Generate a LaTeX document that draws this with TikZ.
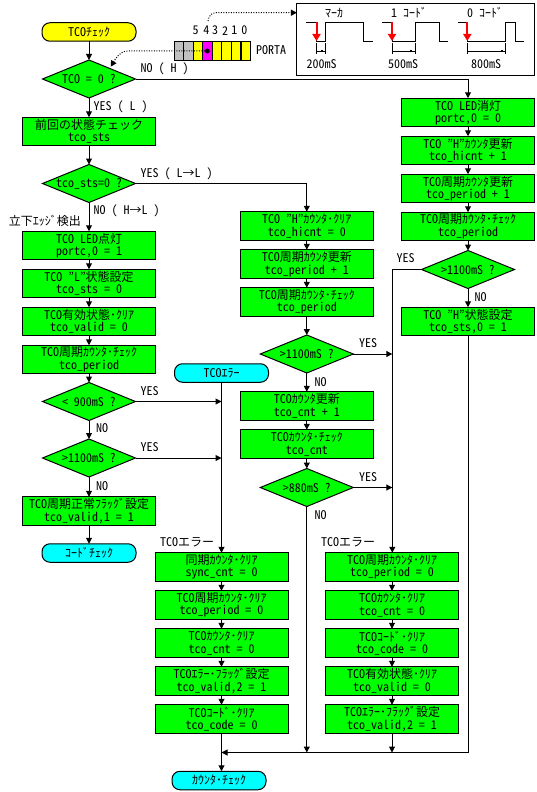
\documentclass[tikz,border=0pt]{standalone}
\usepackage{fontspec}
\usetikzlibrary{arrows.meta,shapes.geometric,calc}
\newfontfamily\cjk[RawFeature=+hwid]{Noto Sans CJK JP}
\newcommand\jp{\cjk\fontsize{12}{12.5}\selectfont\fontdimen2\font=6pt\relax\fontdimen3\font=0pt\relax\fontdimen4\font=0pt\relax}
\newcommand\dt[1]{\makebox[0pt]{#1}}
\definecolor{fgreen}{HTML}{00FF00}
\definecolor{fyellow}{HTML}{FFFF00}
\definecolor{fcyan}{HTML}{00FFFF}
\definecolor{fmag}{HTML}{FF00FF}
\definecolor{fgrey}{HTML}{C0C0C0}
\definecolor{fred}{HTML}{FF0000}
\tikzset{
  every node/.style={font=\jp,inner sep=0pt,outer sep=0pt},
  proc/.style={draw,line width=1pt,fill=fgreen,minimum width=133pt,minimum height=28.5pt,align=center},
  dia/.style={draw,line width=1pt,fill=fgreen,diamond,aspect=2.45,minimum width=93pt,minimum height=38pt},
  term/.style={draw,line width=1pt,rounded corners=8pt,minimum width=94pt,minimum height=18.5pt},
  lab/.style={anchor=west},
  conn/.style={line width=1pt,-{Triangle[length=6pt,width=6pt]}},
  plain/.style={line width=1pt},
  dots/.style={line width=1pt,dash pattern=on 1pt off 1.5pt},
  cell/.style={draw,line width=1pt,minimum width=9.55pt,minimum height=18.6pt},
  wave/.style={line width=1pt},
  redarr/.style={line width=2pt,fred,-{Triangle[length=7pt,width=8pt]}},
}
\begin{document}
\begin{tikzpicture}[x=1pt,y=-1pt]
\useasboundingbox (0,0) rectangle (537,792);
% left column
\node[term,fill=fyellow] (start) at (89,32) {TCOﾁｪｯｸ};
\node[dia] (d1) at (89,79) {\dt{TCO = 0 ?}};
\node[proc] (b1) at (89,131.5) {前回の状態チェック\\tco\_sts};
\node[dia] (d2) at (89,183.5) {\dt{tco\_sts=0 ?}};
\node[proc] (l1) at (89,245.5) {TCO LED点灯\\portc,0 = 1};
\node[proc] (l2) at (89,283.5) {TCO ”L”状態設定\\tco\_sts = 0};
\node[proc] (l3) at (89,321.5) {TCO有効状態･ｸﾘｱ\\tco\_valid = 0};
\node[proc] (l4) at (89,359.5) {TCO周期ｶｳﾝﾀ･ﾁｪｯｸ\\tco\_period};
\node[dia] (d3) at (89,401.5) {\dt{< 900mS ?}};
\node[dia] (d4) at (89,458) {\dt{>1100mS ?}};
\node[proc] (l5) at (89,511) {TCO周期正常ﾌﾗｯｸﾞ設定\\tco\_valid,1 = 1};
\node[term,fill=fcyan] (code) at (89,553) {ｺｰﾄﾞﾁｪｯｸ};
% error column 1
\node[term,fill=fcyan] (err) at (221.5,373) {TCOｴﾗｰ};
\node[proc] (e1) at (221.5,567) {同期ｶｳﾝﾀ･ｸﾘｱ\\sync\_cnt = 0};
\node[proc] (e2) at (221.5,605) {TCO周期ｶｳﾝﾀ･ｸﾘｱ\\tco\_period = 0};
\node[proc] (e3) at (221.5,643) {TCOｶｳﾝﾀ･ｸﾘｱ\\tco\_cnt = 0};
\node[proc] (e4) at (221.5,681) {TCOｴﾗｰ･ﾌﾗｯｸﾞ設定\\tco\_valid,2 = 1};
\node[proc] (e5) at (221.5,719) {TCOｺｰﾄﾞ･ｸﾘｱ\\tco\_code = 0};
\node[term,fill=fcyan] (cnt) at (219,780.5) {ｶｳﾝﾀ･ﾁｪｯｸ};
% middle column
\node[proc] (m1) at (306.8,226) {TCO ”H”ｶｳﾝﾀ･ｸﾘｱ\\tco\_hicnt = 0};
\node[proc] (m2) at (306.8,264) {TCO周期ｶｳﾝﾀ更新\\tco\_period + 1};
\node[proc] (m3) at (306.8,302) {TCO周期ｶｳﾝﾀ･ﾁｪｯｸ\\tco\_period};
\node[dia] (d5) at (306.8,354) {\dt{>1100mS ?}};
\node[proc] (m4) at (306.8,406) {TCOｶｳﾝﾀ更新\\tco\_cnt + 1};
\node[proc] (m5) at (306.8,444) {TCOｶｳﾝﾀ･ﾁｪｯｸ\\tco\_cnt};
\node[dia] (d6) at (306.8,487.5) {\dt{>880mS ?}};
% error column 2
\node[proc] (f1) at (392,567) {TCO周期ｶｳﾝﾀ･ｸﾘｱ\\tco\_period = 0};
\node[proc] (f2) at (392,605) {TCOｶｳﾝﾀ･ｸﾘｱ\\tco\_cnt = 0};
\node[proc] (f3) at (392,643) {TCOｺｰﾄﾞ･ｸﾘｱ\\tco\_code = 0};
\node[proc] (f4) at (392,681) {TCO有効状態･ｸﾘｱ\\tco\_valid = 0};
\node[proc] (f5) at (392,719) {TCOｴﾗｰ･ﾌﾗｯｸﾞ設定\\tco\_valid,2 = 1};
% right column
\node[proc] (r1) at (468,112.5) {TCO LED消灯\\portc,0 = 0};
\node[proc] (r2) at (468,150.5) {TCO ”H”ｶｳﾝﾀ更新\\tco\_hicnt + 1};
\node[proc] (r3) at (468,188.5) {TCO周期ｶｳﾝﾀ更新\\tco\_period + 1};
\node[proc] (r4) at (468,226.5) {TCO周期ｶｳﾝﾀ･ﾁｪｯｸ\\tco\_period};
\node[dia] (d7) at (468,269.5) {\dt{>1100mS ?}};
\node[proc] (r5) at (468,321.5) {TCO ”H”状態設定\\tco\_sts,0 = 1};
% junctions
\coordinate (j3) at (err.south |- d3.east);
\coordinate (j4) at (err.south |- d4.east);
\coordinate (busa) at (392.3,269.5);
\coordinate (j5) at (busa |- d5.east);
\coordinate (j6) at (busa |- d6.east);
\coordinate (mrg) at (221.5,752.5);
\coordinate (mrgm) at (d6.south |- mrg);
\coordinate (mrgf) at (f5.south |- mrg);
\coordinate (mrgr) at (r5.south |- mrg);
% connectors
\foreach \a/\b in {start/d1,d1/b1,b1/d2,d2/l1,l1/l2,l2/l3,l3/l4,l4/d3,d3/d4,d4/l5,l5/code,
  e1/e2,e2/e3,e3/e4,e4/e5,m1/m2,m2/m3,m3/d5,d5/m4,m4/m5,m5/d6,
  f1/f2,f2/f3,f3/f4,f4/f5,r1/r2,r2/r3,r3/r4,r4/d7,d7/r5,err/e1}
  {\draw[conn] (\a.south) -- (\a.south |- \b.north);}
\draw[conn] (d1.east) -| (r1.north);
\draw[conn] (d2.east) -| (m1.north);
\draw[conn] (d3.east) -- (j3);
\draw[conn] (d4.east) -- (j4);
\draw[conn] (d5.east) -- (j5);
\draw[conn] (d6.east) -- (j6);
\draw[conn] (d7.west) -- (busa) -- (busa |- f1.north);
\draw[conn] (d6.south) -- (mrgm);
\draw[conn] (f5.south) -- (mrgf);
\draw[conn] (r5.south) -- (mrgr) -- (mrg);
\draw[conn] (e5.south) -- (e5.south |- cnt.north);
% labels
\node[lab] (t1) at (140.7,68.7) {NO ( H )};
\node[lab] (t2) at (93.7,106.7) {YES ( L )};
\node[lab] (t3) at (140.7,173.7) {YES ( L→L )};
\node[lab] (t4) at (93.7,210.7) {NO ( H→L )};
\node[lab] (t5) at (9,220.7) {立下ｴｯｼﾞ検出};
\node[lab] (t6) at (140.7,390.7) {YES};
\node[lab] (t7) at (96,428.3) {NO};
\node[lab] (t8) at (140.7,447.3) {YES};
\node[lab] (t9) at (96,485.7) {NO};
\node[lab] (t10) at (160,542.7) {TCOエラー};
\node[lab] (t11) at (321,542.7) {TCOエラー};
\node[lab] (t12) at (359,343.3) {YES};
\node[lab] (t13) at (314.7,381.7) {NO};
\node[lab] (t14) at (396.7,258.3) {YES};
\node[lab] (t15) at (474.7,296.7) {NO};
\node[lab] (t16) at (359,476.7) {YES};
\node[lab] (t17) at (314.7,514.7) {NO};
% info box
\node[draw,line width=1pt,minimum width=237.7pt,minimum height=72pt] (info) at (415.8,39.3) {};
\node (w1) at (334,13) {ﾏｰｶ};
\node (w2) at (409,13) {1 ｺｰﾄﾞ};
\node (w3) at (485,13) {0 ｺｰﾄﾞ};
\node (w4) at (321.7,64) {200mS};
\node (w5) at (403,64) {500mS};
\node (w6) at (486,64) {800mS};
\draw[wave] (306,22.5) -| (316.5,41.5) -| (325.7,22.5) -| (363,41.5) -- (372.7,41.5);
\draw[wave] (382,22.5) -| (392,41.5) -| (415.3,22.5) -| (439.3,41.5) -- (448,41.5);
\draw[wave] (458,22.5) -| (467.3,41.5) -| (505.7,22.5) -| (515.7,41.5) -- (523.7,41.5);
\draw[redarr] (316.5,22) -- (316.5,41);
\draw[redarr] (392,22) -- (392,41);
\draw[redarr] (467.3,22) -- (467.3,41);
\draw[wave] (316.5,43) -- (316.5,54) (325.7,43) -- (325.7,54) (316.5,51.3) -- (325.7,51.3);
\draw[wave] (392,43) -- (392,54) (415.3,43) -- (415.3,54) (392,51.3) -- (415.3,51.3);
\draw[wave] (467.3,43) -- (467.3,54) (505.7,43) -- (505.7,54) (467.3,51.3) -- (505.7,51.3);
\fill (320.7,50.3) rectangle (322.7,52.3);
\fill (410.3,50.3) rectangle (412.3,52.3);
\fill (500.7,50.3) rectangle (502.7,52.3);
% register
\node[cell,fill=fgrey]   (c7) at (179,51) {};
\node[cell,fill=fgrey]   (c6) at (188.5,51) {};
\node[cell,fill=fyellow] (c5) at (198,51) {};
\node[cell,fill=fmag]    (c4) at (207.6,51) {};
\node[cell,fill=fyellow] (c3) at (217.2,51) {};
\node[cell,fill=fyellow] (c2) at (226.7,51) {};
\node[cell,fill=fyellow] (c1) at (236.2,51) {};
\node[cell,fill=fyellow] (c0) at (245.8,51) {};
\node (n5) at (195.7,30.7) {5};
\node (n4) at (206.3,30.7) {4};
\node (n3) at (215,30.7) {3};
\node (n2) at (225,30.7) {2};
\node (n1) at (234.3,30.7) {1};
\node (n0) at (244.3,30.7) {0};
\node[lab] (porta) at (256,50) {PORTA};
\node[circle,fill,minimum size=5pt] (pin) at (207.3,51) {};
\coordinate (dtip) at (110.7,66.7);
\coordinate (q1) at (208,21);
\coordinate (itip) at (info.west |- 0,12.7);
\draw[dots,-{Triangle[length=6pt,width=6pt]}] (pin.center) -- (128,51) .. controls (120,51) and (116,58) .. (dtip);
\draw[dots,-{Triangle[length=6pt,width=6pt]}] (q1) .. controls (209,16) and (211,12.7) .. (216,12.7) -- (itip);
\end{tikzpicture}
\end{document}
